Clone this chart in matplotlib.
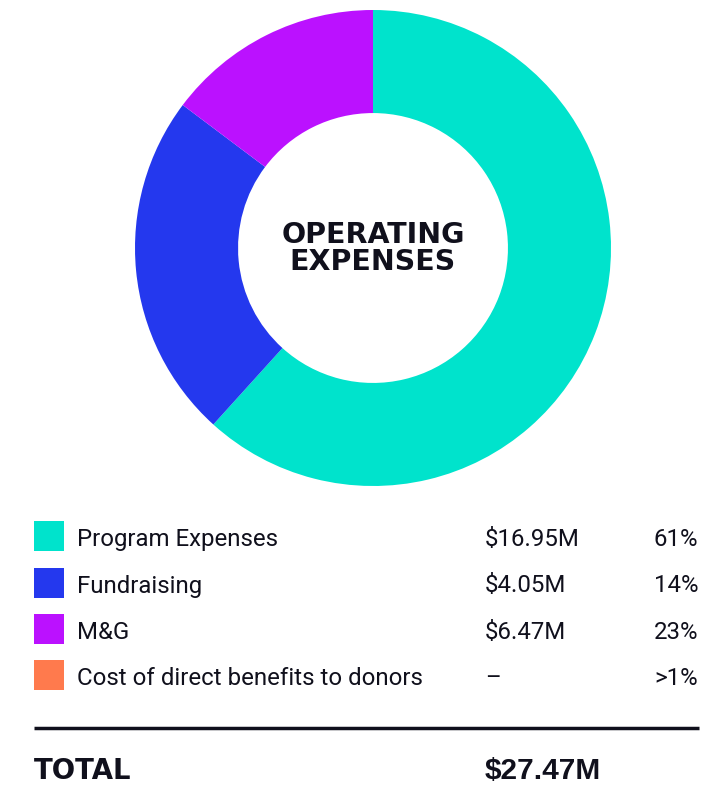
import matplotlib
matplotlib.use("Agg")
import matplotlib.pyplot as plt

# ---- data ----
categories = ["Program Expenses", "Fundraising", "M&G", "Cost of direct benefits to donors"]
amounts = [16.95, 4.05, 6.47, 0.0]           # $M
amount_labels = ["$16.95M", "$4.05M", "$6.47M", "–"]
pct_labels = ["61%", "14%", "23%", ">1%"]
legend_colors = ["#00E3CC", "#2438EE", "#BB11FF", "#FF7A4D"]
total_label = "$27.47M"
title_lines = ["OPERATING", "EXPENSES"]

# the donut (as drawn in the source) - order & colours of the wedges
pie_order = [0, 2, 1]
pie_colors = ["#00E3CC", "#2438EE", "#BB11FF"]

W, H = 727, 786
fig = plt.figure(figsize=(W / 100, H / 100), dpi=100)
fig.patch.set_facecolor("white")

# ---- donut ----
cx, cy, R = 373, 248, 238
ax = fig.add_axes([(cx - R) / W, (H - cy - R) / H, 2 * R / W, 2 * R / H])
vals = [amounts[i] for i in pie_order]
ax.pie(vals, colors=pie_colors, startangle=90, counterclock=False, radius=1,
       wedgeprops=dict(width=0.433, edgecolor="none", linewidth=0))
ax.set_xlim(-1, 1)
ax.set_ylim(-1, 1)
ax.set_aspect("equal")
ax.axis("off")

TXT = "#10101c"

# ---- table / text layer ----
tx = fig.add_axes([0, 0, 1, 1])
tx.set_xlim(0, W)
tx.set_ylim(H, 0)
tx.axis("off")

for line, b in zip(title_lines, [243, 270.5]):
    tx.text(cx, b, line, ha="center", va="baseline", fontsize=20.5,
            fontweight="bold", family="DejaVu Sans", color=TXT)

row_base = [546, 592.5, 639, 685]
for i, cat in enumerate(categories):
    b = row_base[i]
    tx.add_patch(plt.Rectangle((34, b - 25), 30, 30, facecolor=legend_colors[i],
                               edgecolor="none"))
    tx.text(77, b, cat, ha="left", va="baseline", fontsize=17.3,
            family="Roboto", color=TXT)
    tx.text(485, b, amount_labels[i], ha="left", va="baseline", fontsize=17.3,
            family="Roboto", color=TXT)
    tx.text(698, b, pct_labels[i], ha="right", va="baseline", fontsize=17.3,
            family="Roboto", color=TXT)

tx.plot([34, 699], [728, 728], color=TXT, lw=2.5, solid_capstyle="butt")
tx.text(34, 779, "TOTAL", ha="left", va="baseline", fontsize=19.8,
        fontweight="bold", family="DejaVu Sans", color=TXT)
tx.text(485, 779, total_label, ha="left", va="baseline", fontsize=21.5,
        fontweight="bold", family="Liberation Sans", color=TXT)

fig.savefig("out.png", dpi=100, facecolor="white")
